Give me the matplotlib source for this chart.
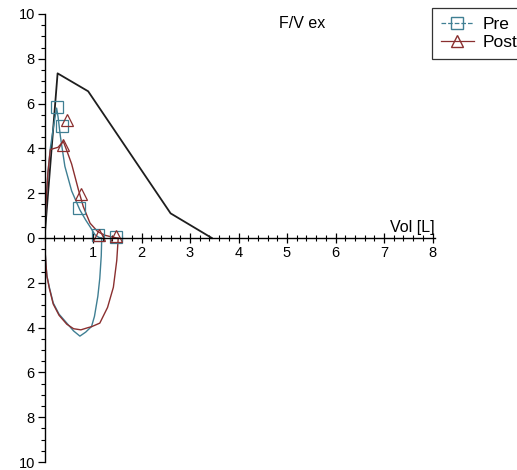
import matplotlib
matplotlib.use("Agg")
import matplotlib.pyplot as plt
from matplotlib.lines import Line2D
from matplotlib.ticker import MultipleLocator, FuncFormatter

plt.rcParams['font.family'] = ['Liberation Sans', 'DejaVu Sans']

# Predicted expiratory curve
pred_vol = [0.0, 0.27, 0.90, 2.60, 3.45]
pred_flow = [0.0, 7.35, 6.55, 1.10, 0.0]

# Pre: expiratory and inspiratory curves
pre_exp_vol = [0.0, 0.03, 0.07, 0.12, 0.18, 0.25, 0.28, 0.33, 0.42, 0.56, 0.73, 0.85, 0.94, 1.04, 1.12, 1.17]
pre_exp_flow = [0.0, 1.5, 2.9, 4.0, 4.9, 5.8, 5.4, 4.5, 3.2, 2.1, 1.25, 0.8, 0.5, 0.15, 0.03, 0.0]
pre_insp_vol = [0.0, 0.01, 0.03, 0.05, 0.10, 0.18, 0.30, 0.46, 0.60, 0.73, 0.85, 0.97, 1.03, 1.10, 1.14, 1.17, 1.18]
pre_insp_flow = [0.0, -0.5, -1.2, -1.7, -2.2, -2.9, -3.4, -3.8, -4.15, -4.38, -4.2, -3.95, -3.5, -2.6, -1.8, -0.8, 0.0]

# Post: expiratory and inspiratory curves
post_exp_vol = [0.0, 0.03, 0.07, 0.12, 0.20, 0.28, 0.34, 0.39, 0.46, 0.56, 0.70, 0.80, 0.94, 1.10, 1.25, 1.40, 1.50]
post_exp_flow = [0.0, 1.5, 2.9, 3.95, 4.0, 4.05, 4.2, 4.3, 3.9, 3.3, 2.15, 1.4, 0.66, 0.28, 0.12, 0.04, 0.0]
post_insp_vol = [0.0, 0.01, 0.03, 0.05, 0.10, 0.18, 0.30, 0.46, 0.60, 0.75, 0.90, 0.97, 1.14, 1.30, 1.42, 1.49, 1.52]
post_insp_flow = [0.0, -0.5, -1.2, -1.7, -2.25, -2.95, -3.45, -3.85, -4.05, -4.1, -4.0, -3.96, -3.8, -3.1, -2.2, -1.0, 0.0]

# Markers
pre_mark_vol = [0.25, 0.37, 0.72, 1.10, 1.47]
pre_mark_flow = [5.85, 5.0, 1.35, 0.15, 0.05]
post_mark_vol = [0.39, 0.47, 0.75, 1.13, 1.47]
post_mark_flow = [4.15, 5.25, 1.95, 0.12, 0.10]

x_ticks = [1, 2, 3, 4, 5, 6, 7, 8]
y_ticks = [-10, -8, -6, -4, -2, 0, 2, 4, 6, 8, 10]

pre_color = '#3f7f93'
post_color = '#8a2f2f'
pred_color = '#1e1e1e'

fig = plt.figure(figsize=(5.17, 4.70), dpi=100)
ax = fig.add_axes([44.5 / 517, 8 / 470, 388 / 517, 448 / 470])

ax.plot(pred_vol, pred_flow, color=pred_color, lw=1.3)
ax.plot(pre_exp_vol, pre_exp_flow, color=pre_color, lw=1.0)
ax.plot(pre_insp_vol, pre_insp_flow, color=pre_color, lw=1.0)
ax.plot(post_exp_vol, post_exp_flow, color=post_color, lw=1.0)
ax.plot(post_insp_vol, post_insp_flow, color=post_color, lw=1.0)
ax.plot(pre_mark_vol, pre_mark_flow, ls='none', marker='s', ms=9, mfc='none',
        mec=pre_color, mew=0.9)
ax.plot(post_mark_vol, post_mark_flow, ls='none', marker='^', ms=9, mfc='none',
        mec=post_color, mew=0.9)

ax.set_xlim(0, 8)
ax.set_ylim(-10, 10)
ax.spines['top'].set_visible(False)
ax.spines['right'].set_visible(False)
ax.spines['bottom'].set_position(('data', 0))
ax.spines['bottom'].set_bounds(0, 8.05)
ax.spines['left'].set_linewidth(1.0)
ax.spines['bottom'].set_linewidth(1.0)

ax.set_xticks(x_ticks)
ax.xaxis.set_minor_locator(MultipleLocator(0.2))
ax.set_yticks(y_ticks)
ax.yaxis.set_minor_locator(MultipleLocator(0.5))
ax.yaxis.set_major_formatter(FuncFormatter(lambda v, p: f"{abs(int(round(v)))}"))
ax.tick_params(axis='x', which='major', direction='inout', length=7, width=0.9,
               labelsize=10.5, pad=2)
ax.tick_params(axis='x', which='minor', direction='inout', length=4, width=0.8)
ax.tick_params(axis='y', which='major', direction='out', length=5, width=0.9,
               labelsize=10.5, pad=2)
ax.tick_params(axis='y', which='minor', direction='out', length=3, width=0.8)

ax.text(8.05, 0.12, 'Vol [L]', ha='right', va='bottom', fontsize=11.5)
fig.text(302 / 517, 1 - 23 / 470, 'F/V ex', ha='center', va='center', fontsize=11.5)

handles = [
    Line2D([], [], color=pre_color, ls='--', lw=0.9, marker='s', ms=8,
           mfc='none', mec=pre_color),
    Line2D([], [], color=post_color, ls='-', lw=0.9, marker='^', ms=8,
           mfc='none', mec=post_color),
]
leg = fig.legend(handles, ['Pre', 'Post'], loc='upper left',
                 bbox_to_anchor=(432 / 517, 1 - 8 / 470), frameon=True,
                 fancybox=False, edgecolor='black', fontsize=12.5,
                 handlelength=1.9, handletextpad=0.5, borderpad=0.5,
                 labelspacing=0.2, borderaxespad=0)
leg.get_frame().set_linewidth(0.9)

fig.savefig('out.png', dpi=100)
